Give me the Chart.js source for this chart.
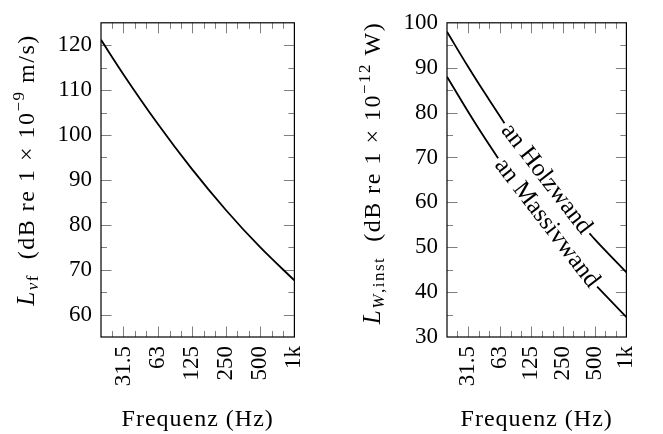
<!DOCTYPE html>
<html>
<head>
<meta charset="utf-8">
<script src="https://cdn.jsdelivr.net/npm/chart.js@4.4.1/dist/chart.umd.min.js"></script>
<style>
  html, body { margin: 0; padding: 0; background: #fff; }
  #wrap { position: relative; width: 663px; height: 434px; }
  canvas { position: absolute; top: 0; }
</style>
</head>
<body>
<div id="wrap">
  <canvas id="chart_vf" width="331" height="434" style="left:0"></canvas>
  <canvas id="chart_lw" width="332" height="434" style="left:331px"></canvas>
</div>
<script>
// third-octave tick positions and octave labels
const tickFreqs = [20, 25, 31.5, 40, 50, 63, 80, 100, 125, 160, 200, 250, 315, 400, 500, 630, 800, 1000];
const labelFreqs = [31.5, 63, 125, 250, 500, 1000];
const labelTexts = ["31.5", "63", "125", "250", "500", "1k"];

// left panel: velocity level
const vfFreq = [20, 31.5, 63, 125, 250, 500, 1000];
const vfLevel = [121.2, 113.5, 102.5, 92.5, 83.3, 75.0, 67.6];

// right panel: sound power level (null = gap for the inline label)
const holzFreq = [20, 31.5, 40, 63, 70, 180, 447, 500, 1000];
const holzLevel = [98.0, 90.3, 86.4, 79.3, 77.6, null, 53.1, 51.8, 44.4];
const massivFreq = [20, 31.5, 40, 61, 180, 528, 1000];
const massivLevel = [88.0, 80.3, 76.4, 69.8, null, 41.2, 34.4];

const FONT = "'Liberation Serif', 'Times New Roman', serif";
Chart.defaults.font.family = FONT;
Chart.defaults.font.size = 23;
Chart.defaults.color = "#000";

function toPoints(xs, ys) {
  return xs.map((x, i) => ({ x: x, y: ys[i] }));
}

function drawVerticalTitle(ctx, parts, cx, cy) {
  ctx.save();
  ctx.letterSpacing = "1.5px";
  let total = 0;
  parts.forEach((p) => {
    ctx.font = p.font;
    p.w = ctx.measureText(p.t).width;
    total += p.w;
  });
  ctx.translate(cx, cy);
  ctx.rotate(-Math.PI / 2);
  ctx.textAlign = "left";
  ctx.textBaseline = "alphabetic";
  ctx.fillStyle = "#000";
  let x = -total / 2;
  parts.forEach((p) => {
    ctx.font = p.font;
    ctx.fillText(p.t, x, p.dy);
    x += p.w;
  });
  ctx.restore();
}

// frame, inward ticks, titles and inline curve labels
function makeDecor(cfg) {
  return {
    id: "decor",
    afterDraw(chart) {
      const ctx = chart.ctx;
      const a = chart.chartArea;
      const xs = chart.scales.x;
      const ys = chart.scales.y;
      ctx.save();

      // ticks
      ctx.strokeStyle = "rgba(0,0,0,0.5)";
      ctx.lineWidth = 1;
      ctx.beginPath();
      tickFreqs.forEach((f) => {
        if (f <= xs.min || f >= xs.max) return;
        const px = Math.round(xs.getPixelForValue(f)) + 0.5;
        const len = labelFreqs.includes(f) ? 10.5 : 6;
        ctx.moveTo(px, a.bottom);
        ctx.lineTo(px, a.bottom - len);
        ctx.moveTo(px, a.top);
        ctx.lineTo(px, a.top + len);
      });
      ys.ticks.forEach((t) => {
        if (t.value <= ys.min || t.value >= ys.max) return;
        const py = Math.round(ys.getPixelForValue(t.value)) + 0.5;
        const len = t.value % 10 === 0 ? 10.5 : 6;
        ctx.moveTo(a.left, py);
        ctx.lineTo(a.left + len, py);
        ctx.moveTo(a.right, py);
        ctx.lineTo(a.right - len, py);
      });
      ctx.stroke();

      // frame
      ctx.strokeStyle = "#000";
      ctx.lineWidth = 1.2;
      ctx.strokeRect(a.left, a.top, a.right - a.left, a.bottom - a.top);

      // x title
      ctx.save();
      ctx.letterSpacing = "1px";
      ctx.fillStyle = "#000";
      ctx.font = "24px " + FONT;
      ctx.textAlign = "center";
      ctx.textBaseline = "alphabetic";
      ctx.fillText("Frequenz (Hz)", (a.left + a.right) / 2, 426);
      ctx.restore();

      // y title
      drawVerticalTitle(ctx, cfg.yTitle, cfg.yTitleX, cfg.yTitleY);

      // inline labels in the gaps of the curves
      (cfg.curveLabels || []).forEach((lab) => {
        const ds = chart.data.datasets[lab.dataset].data;
        const gap = ds.findIndex((p) => p.y === null);
        const p0 = ds[gap - 1];
        const p1 = ds[gap + 1];
        const x0 = xs.getPixelForValue(p0.x), y0 = ys.getPixelForValue(p0.y);
        const x1 = xs.getPixelForValue(p1.x), y1 = ys.getPixelForValue(p1.y);
        ctx.save();
        ctx.translate((x0 + x1) / 2, (y0 + y1) / 2);
        ctx.rotate(Math.atan2(y1 - y0, x1 - x0));
        ctx.font = "25px " + FONT;
        ctx.textAlign = "center";
        ctx.textBaseline = "middle";
        ctx.fillText(lab.text, 0, 1);
        ctx.restore();
      });

      ctx.restore();
    },
  };
}

function makeChart(canvasId, datasets, yMin, yMax, area, decorCfg) {
  const canvas = document.getElementById(canvasId);
  return new Chart(canvas.getContext("2d"), {
    type: "line",
    data: { datasets: datasets },
    options: {
      responsive: false,
      animation: false,
      devicePixelRatio: 1,
      layout: {
        padding: { left: 0, top: area.top, right: canvas.width - area.right, bottom: 0 },
      },
      plugins: {
        legend: { display: false },
        title: { display: false },
        tooltip: { enabled: false },
      },
      elements: { point: { radius: 0 } },
      scales: {
        x: {
          type: "logarithmic",
          min: 20,
          max: 1000,
          grid: { display: false, drawTicks: false },
          border: { display: false },
          afterBuildTicks: (scale) => {
            scale.ticks = tickFreqs.map((v) => ({ value: v }));
          },
          afterFit: (scale) => {
            scale.height = canvas.height - area.bottom;
          },
          ticks: {
            autoSkip: false,
            minRotation: 90,
            maxRotation: 90,
            padding: 9,
            font: { size: 23 },
            callback: (value) => {
              const i = labelFreqs.indexOf(value);
              return i >= 0 ? labelTexts[i] : "";
            },
          },
        },
        y: {
          type: "linear",
          min: yMin,
          max: yMax,
          grid: { display: false, drawTicks: false },
          border: { display: false },
          afterFit: (scale) => {
            scale.width = area.left;
          },
          ticks: {
            autoSkip: false,
            stepSize: 5,
            padding: 9,
            font: { size: 23 },
            callback: (value) => (value % 10 === 0 ? value : ""),
          },
        },
      },
    },
    plugins: [makeDecor(decorCfg)],
  });
}

const lineStyle = {
  borderColor: "#000",
  borderWidth: 1.8,
  fill: false,
  spanGaps: false,
  cubicInterpolationMode: "monotone",
  pointRadius: 0,
};

makeChart(
  "chart_vf",
  [Object.assign({ data: toPoints(vfFreq, vfLevel) }, lineStyle)],
  55,
  125,
  { left: 101, right: 297, top: 15, bottom: 337 },
  {
    yTitleX: 34,
    yTitleY: 170,
    yTitle: [
      { t: "L", font: "italic 25px " + FONT, dy: 0 },
      { t: "v", font: "italic 17px " + FONT, dy: 4 },
      { t: "f", font: "17px " + FONT, dy: 4 },
      { t: "  (dB re 1 \u00d7 10", font: "24px " + FONT, dy: 0 },
      { t: "\u22129", font: "17px " + FONT, dy: -10 },
      { t: " m/s)", font: "24px " + FONT, dy: 0 },
    ],
  }
);

makeChart(
  "chart_lw",
  [
    Object.assign({ data: toPoints(holzFreq, holzLevel) }, lineStyle),
    Object.assign({ data: toPoints(massivFreq, massivLevel) }, lineStyle),
  ],
  30,
  100,
  { left: 116, right: 312, top: 15, bottom: 337 },
  {
    yTitleX: 49,
    yTitleY: 173,
    yTitle: [
      { t: "L", font: "italic 25px " + FONT, dy: 0 },
      { t: "W", font: "italic 17px " + FONT, dy: 4 },
      { t: ",inst", font: "17px " + FONT, dy: 4 },
      { t: "  (dB re 1 \u00d7 10", font: "24px " + FONT, dy: 0 },
      { t: "\u221212", font: "17px " + FONT, dy: -10 },
      { t: " W)", font: "24px " + FONT, dy: 0 },
    ],
    curveLabels: [
      { dataset: 0, text: "an Holzwand" },
      { dataset: 1, text: "an Massivwand" },
    ],
  }
);
</script>
</body>
</html>
